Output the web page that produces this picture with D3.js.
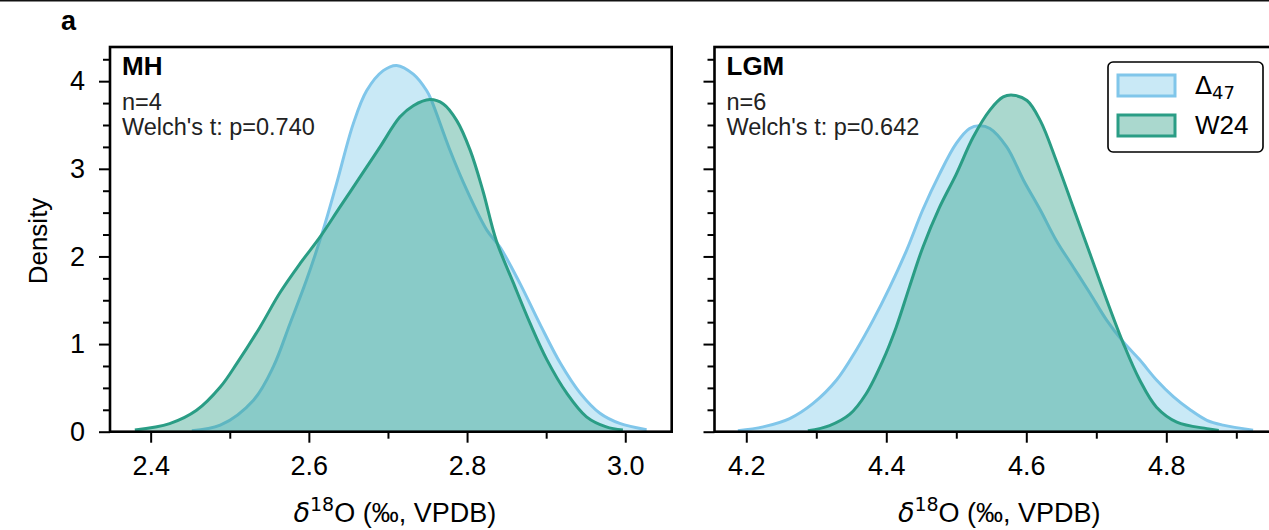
<!DOCTYPE html>
<html>
<head>
<meta charset="utf-8">
<script src="https://cdn.jsdelivr.net/npm/d3@7"></script>
<style>
  html, body { margin: 0; padding: 0; background: #fff; }
  svg { display: block; font-family: "Liberation Sans", Arial, Helvetica, sans-serif; }
</style>
</head>
<body>
<svg id="chart" width="1269" height="530"></svg>
<script>
// ---------------- data ----------------
const panelNames = ["MH", "LGM"];
const panelN = ["n=4", "n=6"];
const panelStats = ["Welch's t: p=0.740", "Welch's t: p=0.642"];
const seriesNames = ["Δ47", "W24"];

// MH – Δ47 density curve
const mhD47X = [2.452, 2.488, 2.530, 2.555, 2.576, 2.597, 2.618, 2.635, 2.656, 2.673, 2.694, 2.711, 2.732, 2.749, 2.755, 2.778, 2.800, 2.825, 2.842, 2.867, 2.892, 2.918, 2.943, 2.968, 2.993, 3.027];
const mhD47Y = [0.012, 0.074, 0.36, 0.74, 1.23, 1.73, 2.30, 2.83, 3.51, 3.89, 4.12, 4.18, 4.08, 3.89, 3.78, 3.22, 2.75, 2.30, 2.10, 1.69, 1.23, 0.78, 0.44, 0.21, 0.094, 0.022];
// MH – W24 density curve
const mhW24X = [2.380, 2.424, 2.458, 2.488, 2.509, 2.538, 2.563, 2.589, 2.614, 2.639, 2.665, 2.690, 2.715, 2.732, 2.753, 2.770, 2.787, 2.804, 2.820, 2.837, 2.858, 2.880, 2.901, 2.926, 2.951, 2.976, 2.997];
const mhW24Y = [0.02, 0.093, 0.245, 0.51, 0.78, 1.19, 1.58, 1.92, 2.22, 2.56, 2.91, 3.25, 3.59, 3.72, 3.79, 3.74, 3.55, 3.21, 2.75, 2.18, 1.71, 1.23, 0.82, 0.44, 0.17, 0.055, 0.02];
// LGM – Δ47 density curve
const lgmD47X = [4.188, 4.224, 4.262, 4.295, 4.329, 4.357, 4.381, 4.405, 4.429, 4.452, 4.476, 4.500, 4.519, 4.533, 4.548, 4.572, 4.596, 4.620, 4.643, 4.667, 4.691, 4.715, 4.739, 4.762, 4.786, 4.810, 4.834, 4.858, 4.881, 4.924];
const lgmD47Y = [0.012, 0.055, 0.15, 0.32, 0.59, 0.93, 1.27, 1.65, 2.07, 2.53, 2.94, 3.29, 3.46, 3.49, 3.46, 3.25, 2.87, 2.53, 2.18, 1.88, 1.58, 1.27, 1.02, 0.82, 0.59, 0.40, 0.25, 0.13, 0.075, 0.018];
// LGM – W24 density curve
const lgmW24X = [4.288, 4.319, 4.348, 4.371, 4.395, 4.414, 4.433, 4.452, 4.476, 4.500, 4.524, 4.548, 4.567, 4.581, 4.601, 4.620, 4.643, 4.667, 4.691, 4.715, 4.739, 4.762, 4.786, 4.815, 4.858, 4.875];
const lgmW24Y = [0.01, 0.07, 0.20, 0.43, 0.81, 1.19, 1.65, 2.10, 2.56, 2.94, 3.36, 3.67, 3.82, 3.84, 3.78, 3.55, 3.09, 2.56, 2.03, 1.50, 1.00, 0.59, 0.28, 0.11, 0.035, 0.015];

// axis ticks
const yMajorTicks = [0, 1, 2, 3, 4];
const yMinorTicks = [0.25, 0.5, 0.75, 1.25, 1.5, 1.75, 2.25, 2.5, 2.75, 3.25, 3.5, 3.75, 4.25];
const mhMajorTicks = [2.4, 2.6, 2.8, 3.0];
const mhMinorTicks = [2.5, 2.7, 2.9];
const lgmMajorTicks = [4.2, 4.4, 4.6, 4.8];
const lgmMinorTicks = [4.3, 4.5, 4.7, 4.9];
const mhDomain = [2.3486, 3.0587];
const lgmDomain = [4.1546, 4.9567];
const yDomain = [0, 4.39];

// ---------------- styling ----------------
const blue = "#87ceeb", blueLine = "#80c6ea";
const green = "#2a9d85", greenLine = "#2a9d85";
const blueAlpha = 0.45, greenAlpha = 0.4;

const svg = d3.select("#chart");
const plotTop = 47, plotBottom = 431.7;
const panels = [
  { x0: 110, x1: 671.7, domain: mhDomain, major: mhMajorTicks, minor: mhMinorTicks,
    series: [[mhD47X, mhD47Y], [mhW24X, mhW24Y]], name: panelNames[0], n: panelN[0], stat: panelStats[0], yLabels: true },
  { x0: 714.5, x1: 1276, domain: lgmDomain, major: lgmMajorTicks, minor: lgmMinorTicks,
    series: [[lgmD47X, lgmD47Y], [lgmW24X, lgmW24Y]], name: panelNames[1], n: panelN[1], stat: panelStats[1], yLabels: false }
];

// figure top border line
svg.append("line").attr("x1", 0).attr("x2", 1269).attr("y1", 0.8).attr("y2", 0.8)
  .attr("stroke", "#111").attr("stroke-width", 1.6);

// panel letter
svg.append("text").attr("x", 61).attr("y", 30).attr("font-size", 27).attr("font-weight", "bold").text("a");

const y = d3.scaleLinear().domain(yDomain).range([plotBottom, plotTop]);
const colors = [[blue, blueLine, blueAlpha], [green, greenLine, greenAlpha]];

panels.forEach(p => {
  const x = d3.scaleLinear().domain(p.domain).range([p.x0, p.x1]);
  const g = svg.append("g");
  const clipId = "clip" + p.name;
  svg.append("clipPath").attr("id", clipId).append("rect")
    .attr("x", p.x0).attr("y", plotTop).attr("width", p.x1 - p.x0).attr("height", plotBottom - plotTop);

  const plot = g.append("g").attr("clip-path", `url(#${clipId})`);
  p.series.forEach((s, i) => {
    const pts = s[0].map((v, k) => [v, s[1][k]]);
    const area = d3.area().x(d => x(d[0])).y0(y(0)).y1(d => y(Math.max(0, d[1])))
      .curve(d3.curveCatmullRom.alpha(0.5));
    const line = d3.line().x(d => x(d[0])).y(d => y(Math.max(0, d[1])))
      .curve(d3.curveCatmullRom.alpha(0.5));
    plot.append("path").attr("d", area(pts)).attr("fill", colors[i][0]).attr("fill-opacity", colors[i][2]);
    plot.append("path").attr("d", line(pts)).attr("fill", "none").attr("stroke", colors[i][1])
      .attr("stroke-width", 3).attr("stroke-linejoin", "round");
  });

  // axes
  const xMaj = g.append("g").attr("transform", `translate(0,${plotBottom})`)
    .call(d3.axisBottom(x).tickValues(p.major).tickSize(11).tickPadding(13).tickFormat(d3.format(".1f")));
  const xMin = g.append("g").attr("transform", `translate(0,${plotBottom})`)
    .call(d3.axisBottom(x).tickValues(p.minor).tickSize(7).tickFormat(""));
  const yMaj = g.append("g").attr("transform", `translate(${p.x0},0)`)
    .call(d3.axisLeft(y).tickValues(yMajorTicks).tickSize(11).tickPadding(14)
      .tickFormat(p.yLabels ? d3.format("d") : ""));
  const yMin = g.append("g").attr("transform", `translate(${p.x0},0)`)
    .call(d3.axisLeft(y).tickValues(yMinorTicks).tickSize(7).tickFormat(""));
  [xMaj, xMin, yMaj, yMin].forEach(a => {
    a.select(".domain").remove();
    a.selectAll(".tick line").attr("stroke", "#000").attr("stroke-width", 2);
    a.selectAll(".tick text").attr("fill", "#000").attr("font-size", 27)
      .attr("font-family", "'Liberation Sans', Arial, sans-serif");
  });

  // frame
  g.append("rect").attr("x", p.x0).attr("y", plotTop).attr("width", p.x1 - p.x0).attr("height", plotBottom - plotTop)
    .attr("fill", "none").attr("stroke", "#000").attr("stroke-width", 2.6);

  // annotations
  g.append("text").attr("x", p.x0 + 12).attr("y", 75).attr("font-size", 26).attr("font-weight", "bold").text(p.name);
  g.append("text").attr("x", p.x0 + 12).attr("y", 110).attr("font-size", 23.5).attr("fill", "#222").text(p.n);
  g.append("text").attr("x", p.x0 + 12).attr("y", 135).attr("font-size", 23.5).attr("fill", "#222").text(p.stat);

  // x label
  const xl = g.append("text").attr("x", (p.x0 + p.x1) / 2 + 4).attr("y", 522)
    .attr("text-anchor", "middle").attr("font-size", 27);
  xl.append("tspan").attr("font-style", "italic").attr("font-family", "'DejaVu Sans', sans-serif").text("δ");
  xl.append("tspan").attr("font-size", 19).attr("dy", -11).attr("font-family", "'DejaVu Sans', sans-serif").text("18");
  xl.append("tspan").attr("dy", 11).text("O (‰, VPDB)");
});

// y label
svg.append("text").attr("transform", "translate(47,241) rotate(-90)").attr("text-anchor", "middle")
  .attr("font-size", 26).text("Density");

// legend
const lg = svg.append("g");
lg.append("rect").attr("x", 1108).attr("y", 62).attr("width", 155).attr("height", 90).attr("rx", 5)
  .attr("fill", "#fff").attr("stroke", "#000").attr("stroke-width", 1.6);
const legendRows = [75, 115];
seriesNames.forEach((nm, i) => {
  lg.append("rect").attr("x", 1118).attr("y", legendRows[i]).attr("width", 57).attr("height", 21)
    .attr("fill", colors[i][0]).attr("fill-opacity", colors[i][2])
    .attr("stroke", colors[i][1]).attr("stroke-width", 3);
  const t = lg.append("text").attr("x", 1195).attr("y", legendRows[i] + 19).attr("font-size", 26);
  if (nm.startsWith("Δ")) {
    t.attr("font-family", "'DejaVu Sans', sans-serif").attr("font-size", 25);
    t.append("tspan").text("Δ");
    t.append("tspan").attr("font-size", 18).attr("dy", 5).text(nm.slice(1));
  } else {
    t.text(nm);
  }
});
</script>
</body>
</html>
